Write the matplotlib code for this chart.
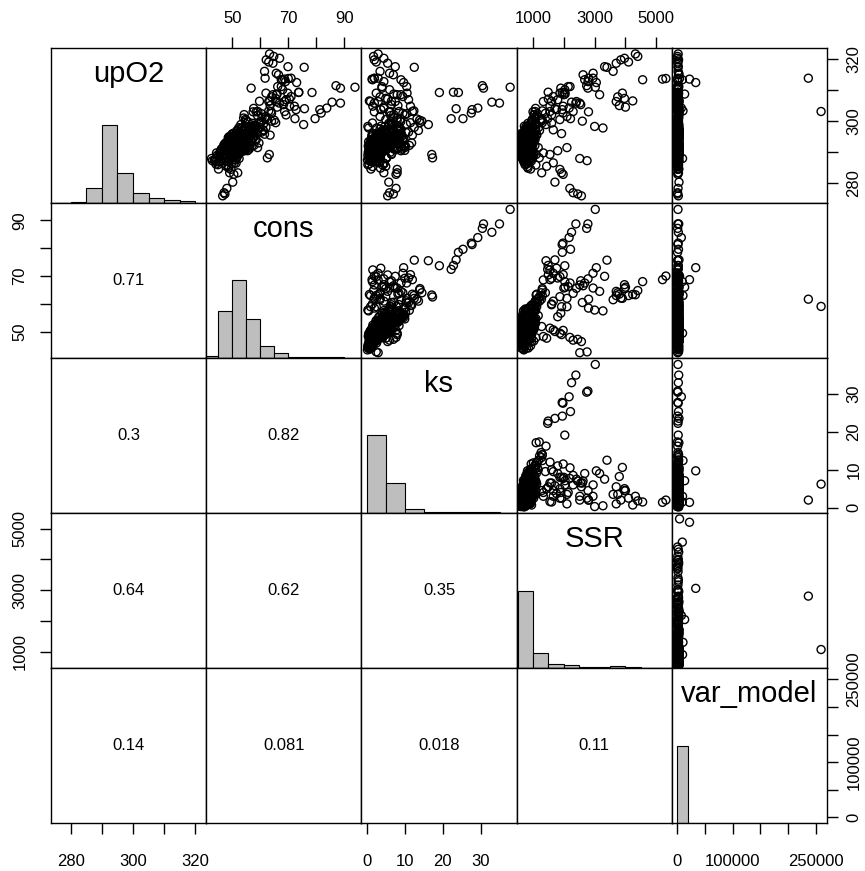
import numpy as np
import matplotlib.pyplot as plt

plt.rcParams['font.family'] = ['Liberation Sans', 'DejaVu Sans']

names = ['upO2', 'cons', 'ks', 'SSR', 'var_model']

# one entry per observation (main cloud, ks tail, high upO2, arms, low upO2, outliers)
upO2 = [
    291.2, 293.5, 289.8, 295.1, 292.4, 290.6, 294.3, 296.8, 288.7, 293.0,
    292.0, 294.8, 291.7, 297.5, 290.1, 293.9, 295.9, 292.7, 289.1, 294.1,
    290.9, 296.2, 293.3, 288.1, 298.7, 292.9, 291.5, 295.6, 287.2, 294.7,
    293.8, 289.5, 292.2, 297.0, 290.4, 294.0, 296.4, 291.9, 299.8, 293.2,
    288.9, 295.3, 292.6, 290.0, 294.6, 301.2, 291.0, 293.7, 286.4, 296.0,
    294.4, 291.4, 297.9, 293.1, 289.2, 292.1, 295.0, 290.8, 298.2, 294.9,
    292.3, 296.6, 287.8, 293.6, 290.3, 295.4, 291.8, 299.2, 294.2, 292.8,
    289.7, 293.4, 296.1, 291.3, 302.4, 294.5, 290.7, 292.5, 297.3, 288.4,
    293.9, 291.6, 295.7, 290.2, 294.8, 292.9, 300.6, 289.4, 296.3, 293.3,
    291.1, 297.1, 292.7, 288.3, 294.1, 295.2, 290.5, 293.0, 298.9, 291.9,
    300.2, 285.4, 301.8, 286.9, 299.5, 284.6, 303.0, 287.5, 302.1, 285.9,
    299.0, 286.2, 304.1, 288.0, 301.0, 284.9, 300.7, 287.0, 298.4, 286.5,
    296.5, 298.0, 294.0, 300.0, 292.0, 297.0, 295.5, 293.0, 299.5, 291.0,
    289.0, 291.0, 293.0, 287.5, 295.0, 290.0, 292.5, 288.0, 294.0, 286.0,
    290.5, 292.8, 294.6, 289.6, 291.8, 296.0, 293.4, 288.8, 295.6, 292.2,
    292.6, 290.3, 295.8, 293.7, 288.5, 294.9, 291.4, 297.2, 292.0, 289.9,
    294.3, 291.7, 296.9, 293.1, 290.8, 298.1, 292.2, 295.3, 288.8, 293.9,
    290.1, 293.3, 291.0, 296.2, 294.7, 289.3, 292.9, 297.8, 291.9, 295.0,
    292.4, 288.2, 294.5, 291.3, 297.5, 290.6, 293.6, 286.9, 295.9, 292.7,
    291.5, 295.6, 289.6, 293.2, 290.9, 296.5, 294.0, 288.0, 292.1, 299.3,
    293.0, 290.4, 294.9, 292.3, 296.0, 289.0, 291.7, 294.2, 287.6, 297.0,
    291.2, 295.4, 292.9, 290.0, 294.1, 298.6, 293.8, 289.4, 296.8, 292.5,
    288.5, 290.8, 293.6, 291.2, 289.8, 295.2, 292.0, 287.3, 294.4, 290.2,
    293.5, 291.0, 296.4, 289.5, 294.6, 298.0, 292.2, 290.6, 295.8, 297.4,
    292.8, 294.2, 291.6, 293.2, 290.7, 295.5, 292.3, 294.0, 291.0, 293.6,
    # ks tail
    310.9, 305.8, 310.6, 306.1, 311.4, 304.2, 302.6, 303.7, 300.8, 309.2,
    304.0, 300.8, 309.2, 298.9, 289.3, 288.2, 300.3, 309.3,
    # high upO2
    321.6, 320.2, 319.7, 318.6, 317.5, 315.4, 313.3, 313.3, 313.7, 311.1,
    308.5, 307.8, 307.3, 306.3, 306.5, 306.9, 310.6, 306.4, 303.1, 317.3,
    309.0, 305.0, 304.5, 319.0, 316.0, 320.8,
    # upper arm
    306.3, 307.1, 307.9, 309.0, 310.1, 311.1, 306.3, 305.8, 303.1, 300.5,
    302.0, 304.8, 303.7, 304.8, 305.3, 312.7, 313.8, 314.9, 308.5, 297.8,
    296.0, 297.2, 299.4, 298.3, 301.5, 302.5, 300.0, 303.0,
    # lower arm
    289.8, 289.3, 286.6, 285.5, 284.5, 283.4, 282.9, 280.4, 278.4, 277.0,
    276.0, 288.0, 287.3, 283.4, 276.6, 290.5, 291.5,
    # var_model outliers
    313.8, 303.1, 312.4, 313.5, 308.7, 303.3, 288.0,
]

cons = [
    52.1, 50.2, 50.1, 52.3, 54.4, 46.7, 54.8, 54.0, 49.8, 50.4,
    48.2, 55.6, 54.9, 53.0, 48.3, 53.0, 49.9, 55.1, 51.1, 52.1,
    53.4, 50.6, 51.1, 49.9, 57.8, 49.3, 55.8, 54.7, 46.3, 57.5,
    48.4, 49.9, 53.3, 53.7, 53.5, 50.6, 55.7, 48.1, 55.6, 54.5,
    47.0, 57.5, 48.1, 50.8, 52.5, 60.6, 49.5, 53.8, 49.7, 51.5,
    53.8, 49.2, 52.3, 54.9, 46.7, 51.7, 48.8, 54.3, 57.0, 52.2,
    50.4, 56.4, 48.7, 49.3, 52.5, 51.5, 54.5, 54.7, 58.2, 47.7,
    51.5, 53.1, 51.5, 50.2, 60.4, 51.4, 47.2, 53.0, 57.9, 46.6,
    56.5, 48.9, 54.2, 48.9, 49.6, 53.8, 54.7, 52.3, 52.7, 51.6,
    47.0, 53.7, 56.1, 51.6, 54.1, 49.4, 50.6, 49.9, 53.0, 53.6,
    54.9, 48.5, 59.0, 45.1, 59.4, 45.0, 57.4, 51.0, 54.2, 47.9,
    61.1, 44.1, 57.6, 52.4, 54.0, 48.7, 61.7, 44.2, 54.6, 51.3,
    60.5, 62.0, 58.5, 64.0, 57.0, 61.0, 63.5, 59.5, 65.5, 56.0,
    44.5, 46.0, 47.5, 43.5, 49.0, 45.5, 48.0, 44.0, 50.5, 44.8,
    46.5, 48.5, 50.0, 45.8, 47.8, 52.0, 49.3, 45.0, 51.2, 47.0,
    54.1, 48.5, 54.3, 49.3, 49.7, 51.2, 54.2, 54.3, 47.2, 51.7,
    50.3, 52.4, 51.6, 55.9, 49.8, 56.4, 50.3, 55.5, 46.4, 53.0,
    52.8, 50.1, 51.5, 56.1, 48.5, 46.8, 53.3, 53.2, 55.1, 52.3,
    50.9, 51.5, 55.4, 47.7, 56.5, 50.7, 50.3, 48.6, 50.4, 54.6,
    52.8, 52.2, 52.0, 52.5, 46.9, 56.3, 48.6, 47.4, 56.2, 57.3,
    50.9, 54.0, 53.7, 48.9, 57.5, 46.1, 51.9, 51.2, 50.1, 51.7,
    52.1, 55.5, 48.8, 50.3, 51.6, 58.3, 55.4, 47.3, 55.5, 47.0,
    45.5, 47.2, 49.5, 46.3, 44.3, 50.8, 48.4, 43.8, 49.9, 46.0,
    56.8, 53.5, 58.7, 51.8, 55.0, 59.8, 57.7, 54.6, 61.5, 59.0,
    52.5, 51.2, 49.8, 54.0, 50.5, 53.5, 48.0, 55.3, 51.9, 50.0,
    93.9, 88.7, 88.7, 85.7, 87.1, 83.8, 81.8, 81.3, 79.6, 78.5,
    75.8, 72.4, 73.7, 75.5, 63.2, 62.5, 65.0, 73.8,
    63.3, 66.9, 62.1, 64.5, 69.9, 65.7, 67.5, 68.0, 70.0, 67.5,
    65.7, 64.0, 65.5, 63.0, 63.4, 69.3, 56.7, 59.7, 68.7, 75.7,
    62.0, 63.5, 66.0, 63.0, 61.5, 64.8,
    68.6, 70.4, 71.0, 69.8, 68.0, 66.2, 65.6, 66.8, 63.8, 62.6,
    69.2, 72.2, 72.8, 70.5, 68.3, 69.0, 71.0, 66.5, 64.5, 57.5,
    59.0, 61.0, 60.0, 57.8, 62.0, 64.0, 60.5, 58.5,
    48.3, 51.3, 50.7, 47.7, 49.5, 49.0, 50.5, 50.1, 48.0, 47.0,
    46.5, 42.5, 42.8, 51.9, 47.3, 55.4, 59.0,
    61.7, 59.1, 73.0, 68.7, 66.0, 63.0, 49.5,
]

ks = [
    3.5, 4.9, 1.4, 5.1, 5.2, 2.5, 8.4, 4.0, 3.2, 1.0,
    3.3, 4.4, 9.0, 3.5, 0.9, 5.5, 5.3, 3.1, 3.4, 6.0,
    3.2, 4.6, 1.4, 5.2, 6.6, 3.4, 10.0, 3.9, 1.8, 8.4,
    2.9, 0.8, 6.6, 8.3, 4.2, 3.6, 3.4, 3.3, 8.9, 4.3,
    2.7, 5.9, 0.8, 6.2, 5.2, 7.1, 1.0, 8.4, 4.6, 3.6,
    2.4, 3.4, 6.6, 5.0, 2.5, 2.7, 4.1, 7.7, 4.7, 8.5,
    5.5, 5.8, 1.1, 3.4, 2.7, 6.6, 5.3, 6.9, 6.8, 3.0,
    3.1, 7.0, 1.6, 4.4, 10.5, 3.6, 2.8, 3.0, 6.6, 1.9,
    9.4, 4.2, 2.6, 0.7, 5.1, 6.4, 8.9, 3.6, 5.3, 1.7,
    2.2, 8.3, 4.7, 5.2, 4.6, 4.5, 1.1, 5.8, 6.0, 4.8,
    8.0, 1.5, 6.3, 1.6, 11.5, 1.1, 5.9, 1.4, 7.1, 4.2,
    10.4, 0.6, 4.5, 3.6, 8.0, 3.6, 13.2, 1.1, 3.8, 4.5,
    11.0, 12.5, 9.8, 14.5, 10.2, 13.6, 12.0, 11.8, 14.0, 9.2,
    0.3, 0.6, 0.9, 0.2, 1.3, 0.4, 0.8, 0.5, 1.5, 0.3,
    1.2, 2.0, 2.4, 1.0, 1.8, 2.9, 0.5, 0.9, 1.4, 0.7,
    6.6, 1.5, 3.7, 4.9, 3.6, 2.5, 8.1, 5.2, 2.3, 2.2,
    5.0, 1.6, 4.7, 5.5, 5.2, 8.3, 2.0, 9.3, 0.8, 3.0,
    3.8, 5.9, 2.1, 7.7, 3.0, 1.0, 8.1, 2.6, 5.6, 6.1,
    1.8, 5.1, 4.8, 3.5, 8.9, 4.2, 1.0, 3.5, 6.5, 4.8,
    6.8, 2.5, 3.4, 5.2, 2.6, 4.8, 4.5, 0.9, 9.7, 5.8,
    4.8, 3.0, 6.8, 1.2, 8.4, 1.7, 6.3, 3.0, 1.4, 4.7,
    2.0, 7.3, 4.6, 2.5, 7.2, 5.9, 4.8, 2.8, 8.8, 0.7,
    1.2, 0.7, 2.3, 1.9, 0.5, 2.8, 0.4, 0.9, 1.7, 2.6,
    8.7, 7.2, 10.3, 6.5, 9.6, 8.4, 11.2, 10.0, 9.1, 7.8,
    4.1, 3.2, 2.9, 5.0, 3.6, 4.4, 2.0, 6.1, 3.3, 2.4,
    37.7, 34.9, 30.7, 32.9, 30.4, 29.2, 27.5, 27.7, 25.3, 24.1,
    23.5, 22.2, 19.1, 16.2, 17.1, 17.3, 13.9, 22.8,
    3.0, 4.5, 2.0, 5.5, 7.5, 6.0, 9.0, 1.5, 2.0, 10.5,
    8.0, 3.5, 5.0, 1.0, 0.7, 11.0, 4.0, 6.5, 12.0, 12.5,
    10.6, 8.2, 4.5, 2.5, 3.5, 1.8,
    3.0, 5.5, 9.5, 2.5, 6.0, 4.0, 7.5, 2.0, 8.5, 5.0,
    10.0, 1.6, 3.7, 11.5, 6.5, 4.5, 3.0, 7.0, 9.0, 0.5,
    2.5, 4.5, 1.5, 0.3, 3.5, 9.5, 6.5, 2.0,
    4.0, 6.5, 3.0, 5.0, 8.0, 8.0, 7.7, 5.8, 7.7, 6.0,
    5.5, 3.0, 2.5, 4.5, 7.0, 9.0, 1.0,
    2.0, 6.2, 9.7, 1.4, 7.1, 12.4, 3.0,
]

SSR = [
    721, 659, 844, 717, 825, 620, 1044, 800, 739, 550,
    889, 679, 886, 1081, 657, 883, 675, 712, 1021, 844,
    649, 998, 558, 928, 1066, 728, 1168, 682, 944, 808,
    760, 599, 984, 832, 778, 996, 828, 630, 980, 866,
    873, 687, 637, 1026, 693, 1077, 844, 800, 794, 1044,
    645, 787, 986, 630, 1020, 807, 746, 971, 769, 1033,
    652, 951, 797, 909, 720, 712, 831, 1093, 751, 950,
    930, 711, 726, 848, 1139, 1030, 605, 751, 737, 832,
    861, 891, 658, 951, 844, 776, 980, 777, 984, 794,
    687, 765, 974, 761, 1066, 757, 814, 666, 952, 700,
    961, 812, 1117, 702, 938, 919, 998, 904, 1032, 1090,
    1074, 784, 1081, 980, 1054, 832, 1271, 848, 718, 818,
    1090, 1180, 950, 1260, 920, 1210, 1120, 1010, 1300, 880,
    610, 570, 540, 700, 560, 600, 530, 650, 555, 740,
    590, 545, 565, 620, 560, 610, 530, 660, 580, 540,
    733, 776, 631, 910, 703, 723, 921, 746, 590, 928,
    796, 618, 917, 650, 751, 847, 942, 845, 778, 583,
    675, 898, 706, 800, 900, 658, 862, 853, 666, 806,
    697, 723, 864, 700, 799, 974, 601, 870, 869, 886,
    874, 634, 748, 954, 597, 829, 694, 876, 817, 835,
    656, 894, 779, 746, 770, 760, 922, 595, 730, 980,
    751, 746, 732, 972, 688, 838, 848, 621, 887, 585,
    640, 575, 545, 560, 610, 570, 535, 690, 550, 600,
    890, 840, 1010, 870, 930, 980, 1060, 960, 1110, 910,
    690, 620, 680, 760, 640, 700, 600, 800, 650, 570,
    3020, 2390, 2780, 2250, 2740, 2170, 1970, 1945, 2215, 1950,
    1710, 1474, 2030, 1420, 1100, 1200, 1300, 1490,
    4323, 3968, 3850, 3700, 3323, 2950, 2677, 4558, 5313, 2200,
    2000, 3750, 3968, 3700, 4236, 1800, 1900, 1600, 1550, 3400,
    3900, 3800, 4000, 4100, 3600, 4400,
    1333, 1495, 1656, 1871, 2032, 2140, 2409, 2516, 2301, 1871,
    1602, 1548, 1763, 1978, 2548, 2785, 2946, 2624, 3161, 3269,
    1925, 1656, 1602, 3000, 2100, 1400, 2600, 2800,
    1333, 1548, 1656, 1441, 1871, 1924, 1977, 1710, 2194, 2301,
    2570, 2516, 2753, 1280, 2450, 1800, 2100,
    2803, 1066, 3054, 5204, 2040, 1300, 900,
]

var_model = [
    1200, 1500, 2400, 800, 2600, 400, 3000, 2200, 1800, 600,
    2000, 300, 1400, 900, 2700, 500, 1700, 3100, 200, 1100,
    700, 2300, 1600, 300, 2900, 1000, 400, 1900, 2500, 800,
    1300, 2100, 600, 3400, 1500, 200, 2800, 900, 1700, 2400,
    600, 1200, 3000, 100, 1900, 2600, 800, 2200, 1400, 500,
    1800, 400, 2300, 1100, 3300, 700, 1500, 2900, 300, 1000,
    2500, 900, 1300, 200, 2000, 3600, 600, 1200, 2700, 1600,
    1000, 2200, 500, 1400, 3000, 800, 1900, 300, 2400, 1100,
    400, 2800, 1700, 900, 100, 2300, 1300, 600, 3200, 1800,
    2100, 700, 1500, 2600, 300, 1200, 3500, 800, 1600, 400,
    1900, 800, 2400, 1200, 500, 2800, 1000, 300, 1700, 2200,
    600, 1500, 3100, 900, 200, 2000, 1300, 2600, 700, 1800,
    1400, 2500, 700, 1100, 3000, 400, 1900, 800, 2200, 1300,
    500, 1800, 1100, 2700, 300, 1500, 2400, 900, 2000, 100,
    2900, 600, 1300, 200, 1700, 2200, 800, 1400, 3400, 1000,
    900, 2300, 400, 1700, 1100, 2800, 600, 1500, 2000, 300,
    1600, 700, 2500, 1200, 3000, 500, 1900, 100, 2600, 1300,
    2200, 800, 1400, 2900, 200, 1800, 1000, 2400, 600, 3300,
    500, 2700, 1100, 1900, 400, 2400, 800, 1600, 2100, 100,
    1300, 2600, 200, 1700, 900, 3100, 2300, 500, 1500, 700,
    2000, 300, 1200, 2800, 600, 1600, 2500, 1000, 400, 1800,
    700, 1900, 2600, 100, 1400, 2200, 500, 3000, 1100, 1700,
    1400, 2900, 600, 2100, 1000, 300, 1800, 700, 2500, 1200,
    2400, 1100, 400, 1700, 2900, 800, 1300, 2000, 600, 3200,
    1600, 400, 2200, 900, 2700, 1200, 100, 1900, 700, 2500,
    1200, 2500, 800, 1800, 600, 7200, 1500, 900, 2100, 400,
    3000, 1100, 1600, 700, 2800, 500, 1900, 1300,
    1500, 300, 2200, 900, 1700, 2600, 500, 9000, 4000, 1200,
    2000, 700, 1400, 300, 2500, 800, 1900, 3300, 600, 1100,
    2300, 400, 1600, 800, 1300, 500,
    1000, 2400, 600, 1500, 300, 2700, 1800, 500, 3500, 1200,
    2000, 800, 1600, 400, 2200, 1300, 700, 2900, 1000, 1700,
    600, 2500, 1400, 300, 900, 2100, 500, 1800,
    1100, 2600, 400, 1500, 700, 2000, 900, 3000, 1300, 500,
    1800, 600, 2200, 1000, 300, 1700, 2400,
    236600, 259600, 33200, 22000, 13200, 10200, 9400,
]

# histogram bins and counts
upO2_breaks = [275, 280, 285, 290, 295, 300, 305, 310, 315, 320]
upO2_counts = [2, 5, 78, 410, 160, 52, 27, 16, 9]
cons_breaks = [40, 45, 50, 55, 60, 65, 70, 75, 80, 85, 90, 95]
cons_counts = [8, 190, 315, 158, 50, 20, 6, 4, 4, 4, 1]
ks_breaks = [0, 5, 10, 15, 20, 25, 30, 35, 40]
ks_counts = [515, 200, 27, 5, 4, 4, 4, 1]
SSR_breaks = [500, 1000, 1500, 2000, 2500, 3000, 3500, 4000, 4500, 5000, 5500]
SSR_counts = [570, 108, 27, 20, 8, 6, 12, 5, 2, 2]
var_breaks = [0, 20000, 40000, 60000, 80000, 100000, 120000, 140000,
              160000, 180000, 200000, 220000, 240000, 260000]
var_counts = [755, 3, 0, 0, 0, 0, 0, 0, 0, 0, 0, 1, 1]

# |r| printed in the lower panels, by row
cor_lower = [[0.71], [0.3, 0.82], [0.64, 0.62, 0.35], [0.14, 0.081, 0.018, 0.11]]

lims = [(273.7, 323.5), (40.6, 96.2), (-1.4, 39.4), (465, 5505), (-10000, 270300)]
ticks = [[280, 290, 300, 310, 320],
         [50, 60, 70, 80, 90],
         [0, 10, 20, 30],
         [1000, 2000, 3000, 4000, 5000],
         [0, 50000, 100000, 150000, 200000, 250000]]
tick_labels = [['280', '', '300', '', '320'],
               ['50', '', '70', '', '90'],
               ['0', '10', '20', '30'],
               ['1000', '', '3000', '', '5000'],
               ['0', '', '100000', '', '', '250000']]

data = [upO2, cons, ks, SSR, var_model]
hists = [(upO2_breaks, upO2_counts), (cons_breaks, cons_counts), (ks_breaks, ks_counts),
         (SSR_breaks, SSR_counts), (var_breaks, var_counts)]

fig, axes = plt.subplots(5, 5, figsize=(8.65, 8.71), dpi=100)
fig.subplots_adjust(left=51/865, right=827/865, bottom=1-823/871, top=1-48/871,
                    wspace=0, hspace=0)

for i in range(5):
    for j in range(5):
        ax = axes[i, j]
        ax.set_xlim(lims[j])
        ax.set_ylim(lims[i])
        ax.set_xticks([])
        ax.set_yticks([])
        for sp in ax.spines.values():
            sp.set_linewidth(1.0)
        ax.tick_params(length=8, width=1.0, labelsize=12, pad=8)
        if i == j:
            br, ct = hists[i]
            lo, hi = lims[i]
            h = np.array(ct) / max(ct) * (hi - lo) / 2
            ax.bar(br[:-1], h, width=np.diff(br), bottom=lo, align='edge',
                   color='#bebebe', edgecolor='black', linewidth=0.8)
            ax.text(0.5, 0.783, names[i], transform=ax.transAxes, ha='center',
                    va='baseline', fontsize=21)
        elif i < j:
            ax.scatter(data[j], data[i], s=33, facecolors='none',
                       edgecolors='black', linewidths=1.0)
        else:
            ax.text(0.5, 0.5, f'{cor_lower[i-1][j]:g}', transform=ax.transAxes,
                    ha='center', va='center', fontsize=12)

        if i == 0 and j % 2 == 1:
            ax.xaxis.set_ticks_position('top')
            ax.set_xticks(ticks[j])
            ax.set_xticklabels(tick_labels[j])
        if i == 4 and j % 2 == 0:
            ax.set_xticks(ticks[j])
            ax.set_xticklabels(tick_labels[j])
            ax.tick_params(axis='x', pad=14)
        if j == 0 and i % 2 == 1:
            ax.set_yticks(ticks[i])
            ax.set_yticklabels(tick_labels[i], rotation=90, va='center')
            ax.tick_params(axis='y', pad=9)
        if j == 4 and i % 2 == 0:
            ax.yaxis.set_ticks_position('right')
            ax.set_yticks(ticks[i])
            ax.set_yticklabels(tick_labels[i], rotation=90, va='center')
            ax.tick_params(axis='y', pad=6)

fig.savefig('out.png', dpi=100)
